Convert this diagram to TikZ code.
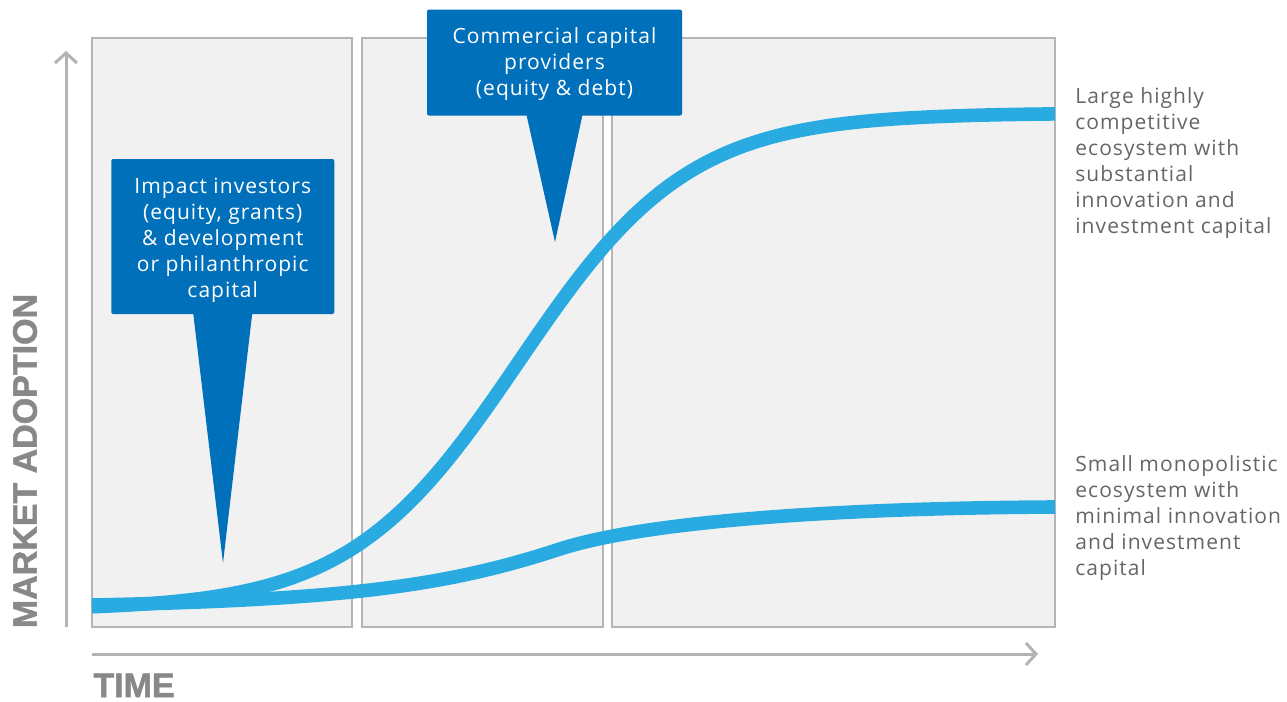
\documentclass[tikz,border=0pt]{standalone}
\usepackage{fontspec}
\setmainfont{Open Sans}[LetterSpace=5]
\newfontfamily\axisfont{Liberation Sans}[BoldFeatures={FakeBold=1.5}]
\usetikzlibrary{arrows.meta}
\definecolor{boxblue}{HTML}{0070BA}
\definecolor{curveblue}{HTML}{29ABE2}
\definecolor{panelfill}{HTML}{F1F1F1}
\definecolor{panelline}{HTML}{B5B5B5}
\definecolor{axisline}{HTML}{B3B3B3}
\definecolor{axistext}{HTML}{888888}
\definecolor{sidetext}{HTML}{666666}
\tikzset{
  panel/.style={fill=panelfill, draw=panelline, line width=1pt},
  callout/.style={fill=boxblue, rounded corners=1pt, inner sep=0pt},
  callouttext/.style={text=white, align=center, inner sep=0pt,
    font=\fontsize{10.5pt}{13pt}\selectfont},
  pointer/.style={fill=boxblue},
  curve/.style={draw=curveblue, line width=6.8pt},
  axisarrow/.style={draw=axisline, line width=1.5pt, -{Straight Barb[length=5pt,width=11pt]}},
  sidelabel/.style={text=sidetext, align=left, anchor=north west, inner sep=0pt,
    font=\fontsize{10.5pt}{13pt}\selectfont},
  axislabel/.style={text=axistext, inner sep=0pt, font=\axisfont\bfseries\fontsize{17pt}{19pt}\selectfont}
}
\begin{document}
\begin{tikzpicture}[x=0.5pt,y=-0.5pt]
\useasboundingbox (0,0) rectangle (1287,702);
\fill[white] (0,0) rectangle (1287,702);
% panels
\draw[panel] (92,38) rectangle (352,627);
\draw[panel] (362,38) rectangle (603,627);
\draw[panel] (612,38) rectangle (1055,627);
% axes
\coordinate (yfoot) at (66,627);
\coordinate (ytop) at (66,51);
\coordinate (xfoot) at (92,654);
\coordinate (xend) at (1038,654);
\draw[axisarrow] (yfoot) -- (ytop);
\draw[axisarrow] (xfoot) -- (xend);
\node[axislabel, rotate=90] (ylab) at (25,461) {MARKET ADOPTION};
\node[axislabel, anchor=base west] (xlab) at (93,697) {TIME};
% curves
\draw[curve] plot[domain=92:1055, samples=220, smooth] (\x, {610-497/(1+exp(-(\x-519)/85))});
\draw[curve] (92,605) .. controls (350,600) and (450,585) .. (560,549)
  .. controls (650,520) and (850,508) .. (1055,507);
% callouts
\node[callout, minimum width=111.5pt, minimum height=77.5pt] (c1) at (222.75,236.5) {};
\node[callouttext] (c1text) at (222.75,240)
  {Impact investors\\(equity, grants)\\\& development\\or philanthropic\\capital};
\coordinate (t1) at (223,563);
\fill[pointer] ([xshift=-14.75pt,yshift=0.5pt]c1.south) -- (t1) -- ([xshift=14.75pt,yshift=0.5pt]c1.south) -- cycle;
\node[callout, minimum width=127.5pt, minimum height=53pt] (c2) at (554.5,62.5) {};
\node[callouttext] (c2text) at (554.5,64.5)
  {Commercial capital\\providers\\(equity \& debt)};
\coordinate (t2) at (555,242);
\fill[pointer] ([xshift=-14pt,yshift=0.5pt]c2.south) -- (t2) -- ([xshift=14pt,yshift=0.5pt]c2.south) -- cycle;
% side labels
\node[sidelabel] (big) at (1075,87) {Large highly\\competitive\\ecosystem with\\substantial\\innovation and\\investment capital};
\node[sidelabel] (small) at (1075,455) {Small monopolistic\\ecosystem with\\minimal innovation\\and investment\\capital};
\end{tikzpicture}
\end{document}
